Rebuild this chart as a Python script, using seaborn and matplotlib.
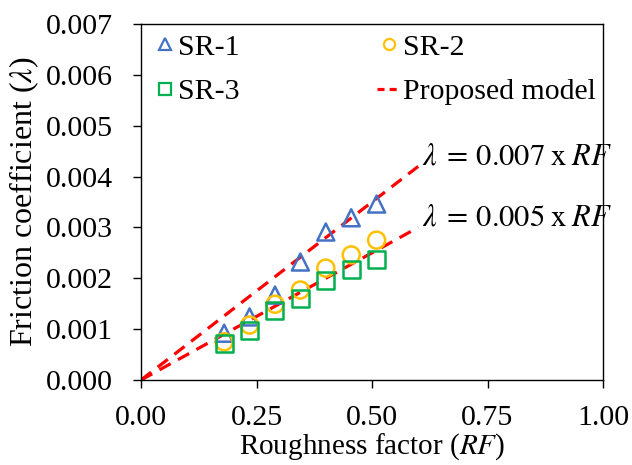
import matplotlib
matplotlib.use("Agg")
import matplotlib.pyplot as plt
from matplotlib.lines import Line2D
import seaborn as sns
import pandas as pd
import numpy as np

# ---- data ----
rf = [0.18, 0.235, 0.29, 0.345, 0.40, 0.455, 0.51]
sr1 = [0.00092, 0.00124, 0.00167, 0.00232, 0.00291, 0.00319, 0.00346]
sr2 = [0.00075, 0.00108, 0.00149, 0.00177, 0.00220, 0.00246, 0.00275]
sr3 = [0.00071, 0.00098, 0.00136, 0.00161, 0.00195, 0.00218, 0.00237]
series_names = ["SR-1", "SR-2", "SR-3"]
model_rf = [0.0, 0.6]
model_slopes = [0.007, 0.005]
x_ticks = [0.00, 0.25, 0.50, 0.75, 1.00]
y_ticks = [0.000, 0.001, 0.002, 0.003, 0.004, 0.005, 0.006, 0.007]

sns.set_theme(style="white")
plt.rcParams["font.family"] = ["Liberation Serif", "DejaVu Serif"]
plt.rcParams["mathtext.fontset"] = "stix"
plt.rcParams["text.color"] = "black"
plt.rcParams["axes.labelcolor"] = "black"

colors = {"SR-1": "#4472C4", "SR-2": "#FFC000", "SR-3": "#00B050"}
markers = {"SR-1": "^", "SR-2": "o", "SR-3": "s"}

df = pd.DataFrame({
    "RF": rf * 3,
    "lam": sr1 + sr2 + sr3,
    "series": [s for s in series_names for _ in rf],
})

fig = plt.figure(figsize=(6.32, 4.65), dpi=100)
ax = fig.add_axes([141 / 632, 1 - 380 / 465, 462 / 632, 356 / 465])

# model lines
for k in model_slopes:
    mdf = pd.DataFrame({"RF": model_rf, "lam": [k * x for x in model_rf]})
    sns.lineplot(data=mdf, x="RF", y="lam", ax=ax, color="#FF0000", lw=2.3,
                 dashes=False, legend=False, zorder=2)
for line in ax.lines:
    line.set_dashes([4.0, 2.6])

for s in series_names:
    sub = df[df.series == s]
    sns.scatterplot(data=sub, x="RF", y="lam", ax=ax, marker=markers[s],
                    s=150, facecolor="none", edgecolor=colors[s],
                    linewidth=1.8, legend=False, zorder=3)

ax.set_xlim(0, 1)
ax.set_ylim(0, 0.007)
ax.set_xticks(x_ticks)
ax.set_yticks(y_ticks)
ax.set_xticklabels([f"{v:.2f}" for v in x_ticks])
ax.set_yticklabels([f"{v:.3f}" for v in y_ticks])
ax.tick_params(axis="both", direction="out", length=6, width=1.0,
               labelsize=21.5, colors="black", bottom=True, left=True)
ax.tick_params(axis="x", pad=12)
ax.tick_params(axis="y", pad=14)
for sp in ax.spines.values():
    sp.set_visible(True)
    sp.set_color("black")
    sp.set_linewidth(1.0)

ax.set_xlabel(r"Roughness factor ($RF$)", fontsize=21, labelpad=0)
ax.set_ylabel(r"Friction coefficient ($\lambda$)", fontsize=23, labelpad=4)

ax.text(0.608, 0.00438, r"$\lambda\;=\,0.007\;\mathrm{x}\;RF$", fontsize=22,
        ha="left", va="center")
ax.text(0.608, 0.00318, r"$\lambda\;=\,0.005\;\mathrm{x}\;RF$", fontsize=22,
        ha="left", va="center")

handles = [
    Line2D([], [], ls="none", marker="^", mfc="none", mec=colors["SR-1"], ms=8, mew=1.6),
    Line2D([], [], ls="none", marker="s", mfc="none", mec=colors["SR-3"], ms=8, mew=1.6),
    Line2D([], [], ls="none", marker="o", mfc="none", mec=colors["SR-2"], ms=8, mew=1.6),
    Line2D([], [], color="#FF0000", lw=2.3, dashes=[2.2, 1.6]),
]
labels = ["SR-1", "SR-3", "SR-2", "Proposed model"]
ax.legend(handles, labels, ncol=2, loc="upper left", frameon=False,
          fontsize=21.5, handlelength=0.8, handletextpad=0.05,
          columnspacing=4.6, labelspacing=0.6, borderpad=0.0,
          bbox_to_anchor=(0.026, 0.973), borderaxespad=0.0)

fig.savefig("out.png", dpi=100)
